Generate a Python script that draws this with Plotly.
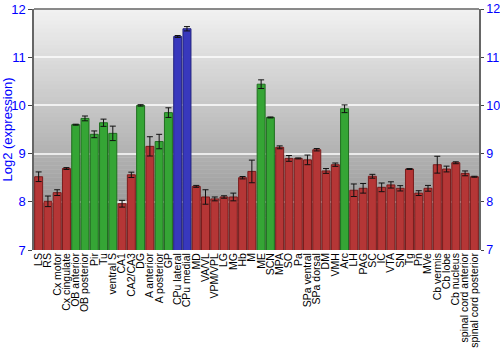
import plotly.graph_objects as go

regions = ["LS", "RS", "Cx motor", "Cx cingulate", "OB anterior", "OB posterior", "Pir", "Tu",
           "ventral S", "CA1", "CA2/CA3", "DG", "A anterior", "A posterior", "GP", "CPu lateral",
           "CPu medial", "MD", "VA/VL", "VPM/VPL", "LG", "MG", "Hb", "M", "ME", "SCN", "MPA", "SO",
           "Pa", "SPa ventral", "SPa dorsal", "DM", "VMH", "Arc", "LH", "PAG", "SC", "IC", "VTA",
           "SN", "Tg", "Pn", "MVe", "Cb vermis", "Cb lobe", "Cb nucleus", "spinal cord anterior",
           "spinal cord posterior"]

expression = [8.52, 8.01, 8.19, 8.69, 9.60, 9.73, 9.40, 9.64,
              9.42, 7.96, 8.56, 10.0, 9.15, 9.25, 9.85, 11.43,
              11.59, 8.32, 8.10, 8.06, 8.10, 8.10, 8.50, 8.63, 10.44, 9.75, 9.13, 8.90,
              8.90, 8.87, 9.08, 8.64, 8.77, 9.93, 8.24, 8.28, 8.53, 8.30, 8.35,
              8.28, 8.68, 8.18, 8.28, 8.77, 8.68, 8.81, 8.59,
              8.52]

errors = [0.10, 0.11, 0.06, 0.02, 0.01, 0.05, 0.07, 0.075,
          0.15, 0.07, 0.055, 0.015, 0.20, 0.15, 0.10, 0.02,
          0.045, 0.02, 0.15, 0.04, 0.025, 0.08, 0.025, 0.235, 0.09, 0.01, 0.03, 0.06,
          0.01, 0.10, 0.025, 0.05, 0.035, 0.08, 0.13, 0.10, 0.04, 0.09, 0.065,
          0.055, 0.01, 0.05, 0.06, 0.175, 0.06, 0.02, 0.05,
          0.01]

groups = ["r", "r", "r", "r", "g", "g", "g", "g",
          "g", "r", "r", "g", "r", "g", "g", "b",
          "b", "r", "r", "r", "r", "r", "r", "r", "g", "g", "r", "r",
          "r", "r", "r", "r", "r", "g", "r", "r", "r", "r", "r",
          "r", "r", "r", "r", "r", "r", "r", "r",
          "r"]

fill = {"r": "#b53636", "g": "#35a535", "b": "#3838bd"}
edge = {"r": "#7a1c1c", "g": "#1f6e1f", "b": "#22227e"}

fig = go.Figure()
fig.add_trace(go.Bar(
    x=regions, y=expression,
    marker=dict(color=[fill[g] for g in groups],
                line=dict(color=[edge[g] for g in groups], width=1)),
    error_y=dict(type="data", array=errors, color="#111111", thickness=1, width=3),
    showlegend=False, hoverinfo="x+y",
))
# invisible trace to anchor the right axis
fig.add_trace(go.Scatter(x=regions, y=expression, yaxis="y2", mode="markers",
                         marker=dict(opacity=0), showlegend=False, hoverinfo="skip"))

# background gradient strips
n = 60
top = (242, 242, 242)
bot = (135, 135, 135)
shapes = []
for i in range(n):
    t = (i + 0.5) / n
    c = tuple(int(round(top[k] + (bot[k] - top[k]) * t)) for k in range(3))
    shapes.append(dict(type="rect", xref="paper", yref="paper",
                       x0=0, x1=1, y0=1 - (i + 1) / n, y1=1 - i / n + 0.002,
                       fillcolor="rgb(%d,%d,%d)" % c, line=dict(width=0), layer="below"))
shapes.append(dict(type="line", xref="paper", yref="paper", x0=0, x1=1, y0=1, y1=1,
                   line=dict(color="#666666", width=1.5), layer="above"))

fig.update_layout(
    width=500, height=350,
    margin=dict(l=34, r=21, t=9, b=100, autoexpand=False),
    paper_bgcolor="white", plot_bgcolor="rgba(0,0,0,0)",
    bargap=0.14,
    shapes=shapes,
    font=dict(family="Liberation Sans, Arial, sans-serif", size=11, color="#000000"),
    xaxis=dict(tickangle=-90, tickfont=dict(size=10.5, color="#000000"),
               tickmode="linear", dtick=1, tick0=0,
               showgrid=False, ticks="", automargin=False, showline=False,
               range=[-0.5, len(regions) - 0.5]),
    yaxis=dict(range=[7, 12], dtick=1, tickfont=dict(size=13, color="#0000ff"),
               showgrid=True, gridcolor="rgba(255,255,255,0.75)", gridwidth=1.5,
               layer="above traces",
               ticks="outside", ticklen=4, tickcolor="#444444",
               showline=True, linecolor="#666666", linewidth=1.5,
               zeroline=False, automargin=False,
               title=dict(text="Log2 (expression)", font=dict(size=13, color="#0000ff"),
                          standoff=4)),
    yaxis2=dict(range=[7, 12], dtick=1, overlaying="y", side="right",
                tickfont=dict(size=12.5, color="#0000ff"), showgrid=False,
                ticks="outside", ticklen=3, tickcolor="#444444",
                showline=True, linecolor="#666666", linewidth=1.5,
                zeroline=False, automargin=False),
)

fig.write_html("out.html")
